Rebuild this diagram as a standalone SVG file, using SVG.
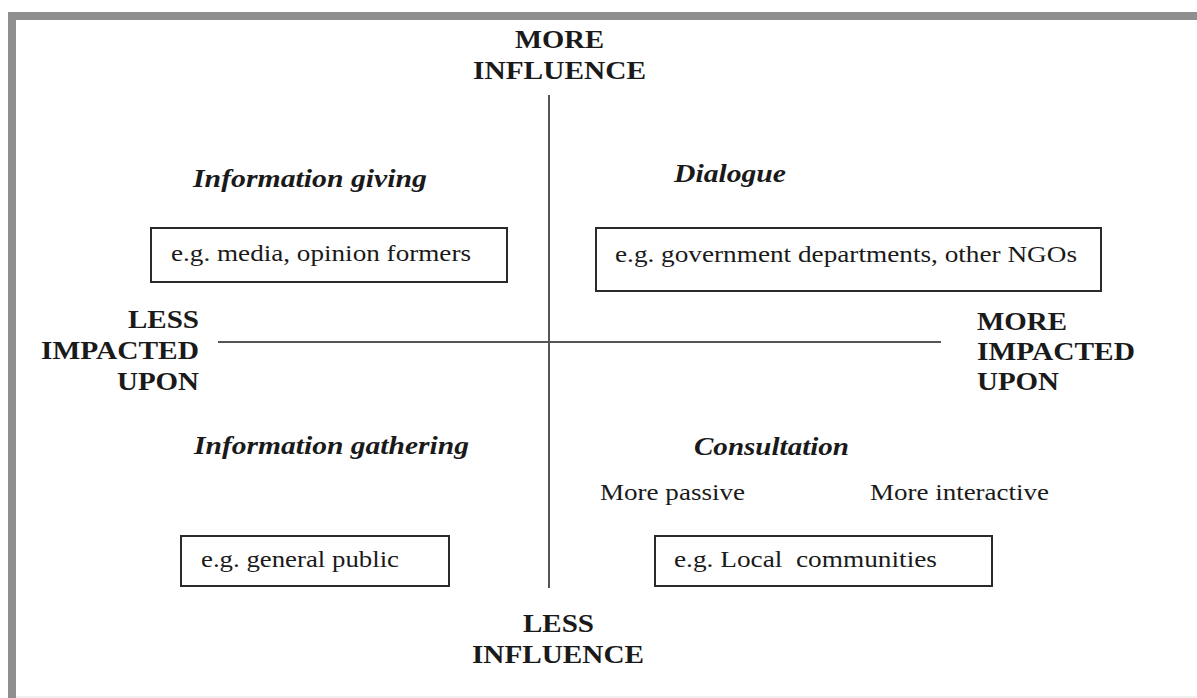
<svg xmlns="http://www.w3.org/2000/svg" width="1197" height="698" viewBox="0 0 1197 698">
<style>
text{font-family:"Liberation Serif","Times New Roman",serif;fill:#1a1a1a}
.ax{font-weight:bold;font-size:25px}
.q{font-weight:bold;font-style:italic;font-size:25px}
.t{font-size:24px}
.box{fill:none;stroke:#2a2a2a;stroke-width:2}
.axis{stroke:#555;stroke-width:2;fill:none}
</style>
<rect x="0" y="0" width="1197" height="698" fill="#fff"/>
<g id="frame">
<rect x="8" y="12" width="1189" height="8" fill="#8f8f8f"/>
<rect x="8" y="12" width="8" height="686" fill="#8f8f8f"/>
<line x1="16" y1="697" x2="1197" y2="697" stroke="#ececec" stroke-width="1.5"/>
</g>
<g id="axes">
<line class="axis" x1="549" y1="95" x2="549" y2="588"/>
<line class="axis" x1="218" y1="342" x2="941" y2="342"/>
</g>
<g id="label-more-influence">
<text class="ax" x="515" y="48" textLength="89" lengthAdjust="spacingAndGlyphs">MORE</text>
<text class="ax" x="473" y="79" textLength="173" lengthAdjust="spacingAndGlyphs">INFLUENCE</text>
</g>
<g id="label-less-influence">
<text class="ax" x="523" y="632" textLength="71" lengthAdjust="spacingAndGlyphs">LESS</text>
<text class="ax" x="472" y="663" textLength="172" lengthAdjust="spacingAndGlyphs">INFLUENCE</text>
</g>
<g id="label-less-impacted">
<text class="ax" x="128" y="328" textLength="71" lengthAdjust="spacingAndGlyphs">LESS</text>
<text class="ax" x="41" y="359" textLength="158" lengthAdjust="spacingAndGlyphs">IMPACTED</text>
<text class="ax" x="117" y="390" textLength="82" lengthAdjust="spacingAndGlyphs">UPON</text>
</g>
<g id="label-more-impacted">
<text class="ax" x="977" y="330" textLength="90" lengthAdjust="spacingAndGlyphs">MORE</text>
<text class="ax" x="977" y="360" textLength="158" lengthAdjust="spacingAndGlyphs">IMPACTED</text>
<text class="ax" x="977" y="390" textLength="82" lengthAdjust="spacingAndGlyphs">UPON</text>
</g>
<g id="q-information-giving">
<text class="q" x="193" y="187" textLength="234" lengthAdjust="spacingAndGlyphs">Information giving</text>
<rect class="box" x="151" y="228" width="356" height="54"/>
<text class="t" x="171" y="261" textLength="300" lengthAdjust="spacingAndGlyphs">e.g. media, opinion formers</text>
</g>
<g id="q-dialogue">
<text class="q" x="674" y="182" textLength="112" lengthAdjust="spacingAndGlyphs">Dialogue</text>
<rect class="box" x="596" y="228" width="505" height="63"/>
<text class="t" x="615" y="262" textLength="462" lengthAdjust="spacingAndGlyphs">e.g. government departments, other NGOs</text>
</g>
<g id="q-information-gathering">
<text class="q" x="194" y="454" textLength="275" lengthAdjust="spacingAndGlyphs">Information gathering</text>
<rect class="box" x="181" y="536" width="268" height="50"/>
<text class="t" x="201" y="567" textLength="198" lengthAdjust="spacingAndGlyphs">e.g. general public</text>
</g>
<g id="q-consultation">
<text class="q" x="694" y="455" textLength="155" lengthAdjust="spacingAndGlyphs">Consultation</text>
<text class="t" x="600" y="500" textLength="145" lengthAdjust="spacingAndGlyphs">More passive</text>
<text class="t" x="870" y="500" textLength="179" lengthAdjust="spacingAndGlyphs">More interactive</text>
<rect class="box" x="655" y="536" width="337" height="50"/>
<text class="t" x="674" y="567" textLength="263" lengthAdjust="spacingAndGlyphs" xml:space="preserve">e.g. Local  communities</text>
</g>
</svg>
